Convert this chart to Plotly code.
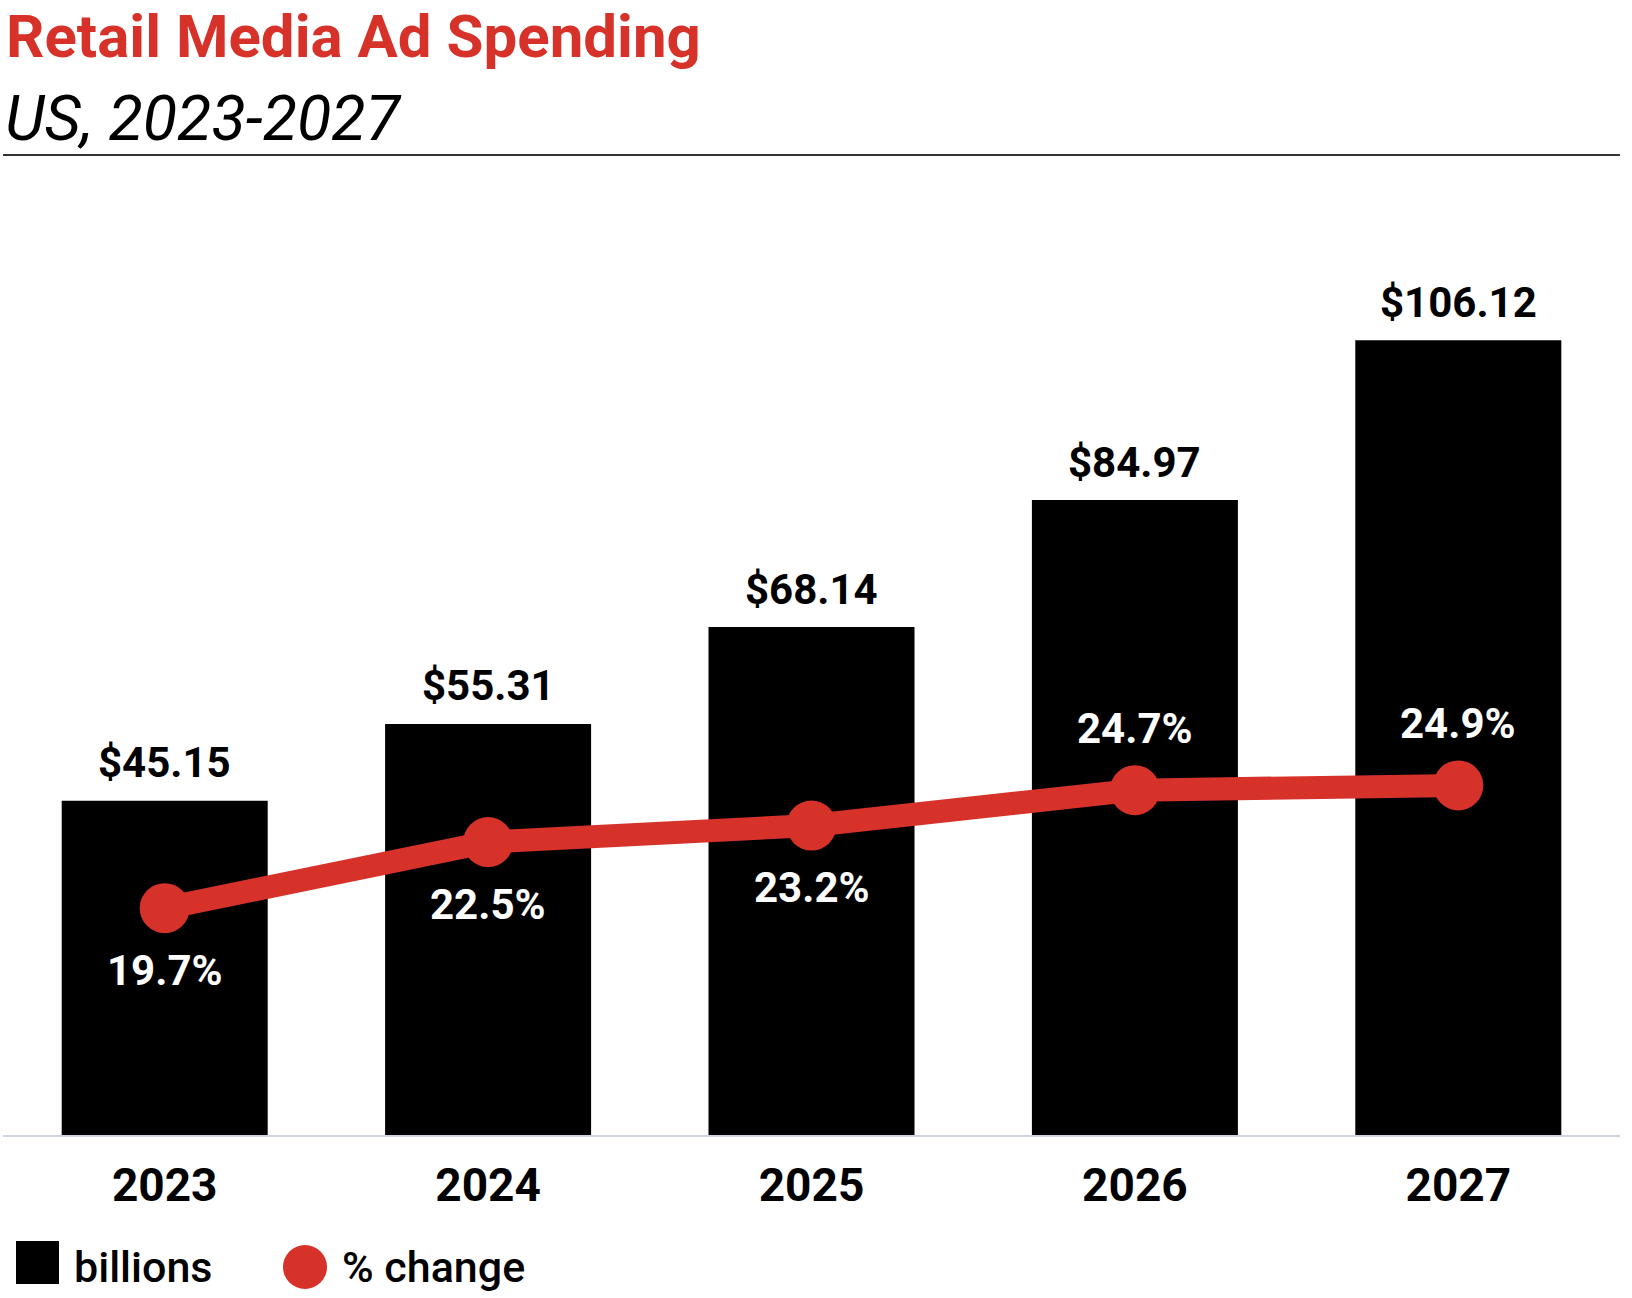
import plotly.graph_objects as go

years = ["2023", "2024", "2025", "2026", "2027"]
spend = [45.15, 55.31, 68.14, 84.97, 106.12]
pct = [19.7, 22.5, 23.2, 24.7, 24.9]
spend_labels = ["$45.15", "$55.31", "$68.14", "$84.97", "$106.12"]
pct_labels = ["19.7%", "22.5%", "23.2%", "24.7%", "24.9%"]
pct_label_side = [-1, -1, -1, 1, 1]

RED = "#D6322A"
FONT = "Roboto"
W, H = 1632, 1298
L, R, T, B = 3, 12, 160, 162
plot_h = H - T - B


def py(pix):
    return (H - B - pix) / plot_h


def px(pix):
    return (pix - L) / (W - L - R)


fig = go.Figure()
fig.add_trace(go.Bar(x=years, y=spend, marker=dict(color="#000000", line=dict(width=0)),
                     name="billions", showlegend=False, hoverinfo="skip"))
fig.add_trace(go.Scatter(x=years, y=pct, yaxis="y2", mode="lines+markers",
                         line=dict(color=RED, width=23),
                         marker=dict(color=RED, size=50),
                         name="% change", showlegend=False, hoverinfo="skip"))

annotations = []
for i, (v, lab) in enumerate(zip(spend, spend_labels)):
    annotations.append(dict(x=i, y=v, xref="x", yref="y", text=lab, showarrow=False,
                            yshift=38, yanchor="middle",
                            font=dict(family=FONT, size=42, color="#000000", weight="bold")))
for i, (p, lab, s) in enumerate(zip(pct, pct_labels, pct_label_side)):
    annotations.append(dict(x=i, y=p, xref="x", yref="y2", text=lab, showarrow=False,
                            yshift=62 * s, yanchor="middle",
                            font=dict(family=FONT, size=42, color="#FFFFFF", weight="bold")))

# titles
annotations.append(dict(x=px(4), y=py(37), xref="paper", yref="paper", xanchor="left", yanchor="middle",
                        text="Retail Media Ad Spending", showarrow=False,
                        font=dict(family=FONT, size=60, color=RED, weight="bold")))
annotations.append(dict(x=px(3), y=py(119), xref="paper", yref="paper", xanchor="left", yanchor="middle",
                        text="US, 2023-2027", showarrow=False,
                        font=dict(family=FONT, size=63, color="#000000", style="italic")))
# legend text
annotations.append(dict(x=px(72), y=py(1267), xref="paper", yref="paper", xanchor="left", yanchor="middle",
                        text="billions", showarrow=False,
                        font=dict(family=FONT, size=43, color="#000000", weight=500)))
annotations.append(dict(x=px(340), y=py(1267), xref="paper", yref="paper", xanchor="left", yanchor="middle",
                        text="% change", showarrow=False,
                        font=dict(family=FONT, size=43, color="#000000", weight=500)))

shapes = [
    dict(type="line", xref="paper", yref="paper", x0=0, x1=1, y0=py(155), y1=py(155),
         line=dict(color="#333333", width=2)),
    dict(type="line", xref="paper", yref="paper", x0=0, x1=1, y0=0, y1=0,
         line=dict(color="#CDD3E3", width=2)),
    dict(type="rect", xref="paper", yref="paper", x0=px(16), x1=px(59), y0=py(1284), y1=py(1241),
         fillcolor="#000000", line=dict(width=0)),
    dict(type="circle", xref="paper", yref="paper", x0=px(283), x1=px(327), y0=py(1289), y1=py(1245),
         fillcolor=RED, line=dict(width=0)),
]

fig.update_layout(
    width=W, height=H,
    margin=dict(l=L, r=R, t=T, b=B, pad=0),
    paper_bgcolor="#FFFFFF", plot_bgcolor="#FFFFFF",
    bargap=0.363,
    showlegend=False,
    xaxis=dict(type="category", range=[-0.5, 4.5], showgrid=False, zeroline=False, showline=False,
               ticks="", ticklabelstandoff=18,
               tickfont=dict(family=FONT, size=46, color="#000000", weight="bold")),
    yaxis=dict(range=[0.74, 130.0], visible=False, showgrid=False, zeroline=False),
    yaxis2=dict(range=[10.05, 51.39], overlaying="y", visible=False, showgrid=False, zeroline=False),
    annotations=annotations,
    shapes=shapes,
)

fig.write_html("out.html", config={"displayModeBar": False},
               post_script="document.body.style.margin='0';document.body.style.padding='0';")
